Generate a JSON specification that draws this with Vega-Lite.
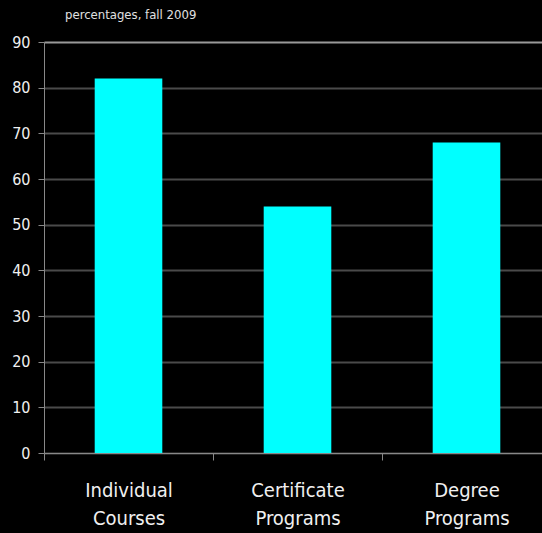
{
  "$schema": "https://vega.github.io/schema/vega-lite/v6.json",
  "width": 498,
  "height": 411,
  "autosize": {"type": "none"},
  "padding": {"left": 44, "top": 42, "right": 0, "bottom": 80},
  "background": "#000000",
  "title": {
    "text": "percentages, fall 2009",
    "anchor": "start",
    "frame": "group",
    "dx": 21,
    "offset": 12,
    "fontSize": 13,
    "fontWeight": "normal",
    "color": "#e0e0e0",
    "font": "Liberation Sans Narrow, DejaVu Sans Condensed, sans-serif"
  },
  "config": {
    "view": {"stroke": null},
    "axis": {"labelFont": "Liberation Sans Narrow, DejaVu Sans Condensed, sans-serif"}
  },
  "data": {
    "values": [
      {"category": "Individual Courses", "value": 82},
      {"category": "Certificate Programs", "value": 54},
      {"category": "Degree Programs", "value": 68}
    ]
  },
  "mark": {"type": "bar", "color": "#00FFFF", "width": {"band": 0.4}},
  "encoding": {
    "x": {
      "field": "category",
      "type": "nominal",
      "sort": null,
      "scale": {"range": [0, 507], "paddingInner": 0, "paddingOuter": 0},
      "axis": {
        "title": null,
        "labelAngle": 0,
        "labelExpr": "split(datum.label, ' ')",
        "labelFontSize": 20,
        "labelColor": "#f0f0f0",
        "labelLineHeight": 28,
        "labelPadding": 20,
        "tickBand": "extent",
        "tickColor": "#888888",
        "tickSize": 7,
        "domainColor": "#888888",
        "grid": false
      }
    },
    "y": {
      "field": "value",
      "type": "quantitative",
      "scale": {"domain": [0, 90], "nice": false},
      "axis": {
        "title": null,
        "values": [0, 10, 20, 30, 40, 50, 60, 70, 80, 90],
        "labelFontSize": 16,
        "labelColor": "#f0f0f0",
        "labelPadding": 8,
        "tickColor": "#888888",
        "tickSize": 6,
        "domainColor": "#888888",
        "grid": true,
        "gridColor": {"condition": {"test": "datum.value == 90", "value": "#999999"}, "value": "#4a4a4a"},
        "gridWidth": 2
      }
    }
  }
}
